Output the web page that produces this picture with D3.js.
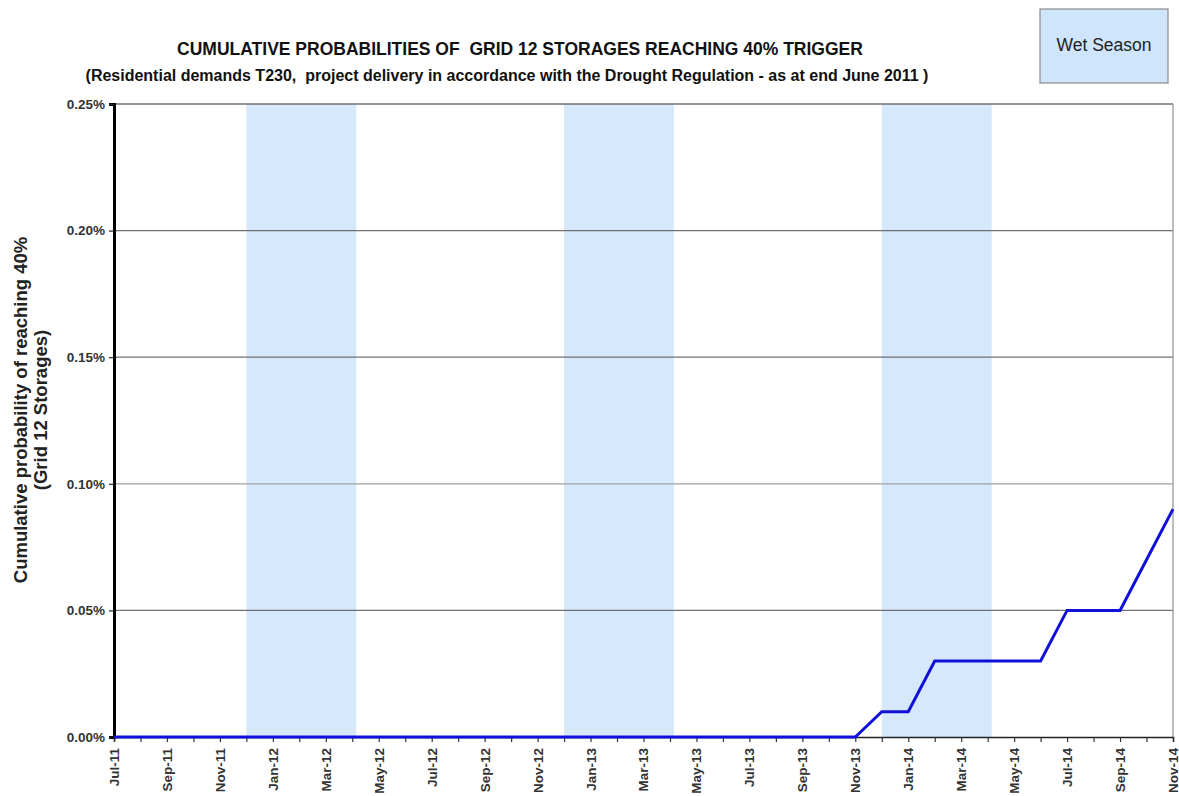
<!DOCTYPE html>
<html>
<head>
<meta charset="utf-8">
<script src="https://cdn.jsdelivr.net/npm/d3@7"></script>
<style>
  body { margin: 0; background: #fff; }
  svg { display: block; font-family: "Liberation Sans", Arial, sans-serif; }
</style>
</head>
<body>
<svg id="chart" width="1179" height="796"></svg>
<script>
// months from Jul-11 to Nov-14
var months = ["Jul-11","Aug-11","Sep-11","Oct-11","Nov-11","Dec-11","Jan-12","Feb-12","Mar-12","Apr-12",
  "May-12","Jun-12","Jul-12","Aug-12","Sep-12","Oct-12","Nov-12","Dec-12","Jan-13","Feb-13","Mar-13","Apr-13",
  "May-13","Jun-13","Jul-13","Aug-13","Sep-13","Oct-13","Nov-13","Dec-13","Jan-14","Feb-14","Mar-14","Apr-14",
  "May-14","Jun-14","Jul-14","Aug-14","Sep-14","Oct-14","Nov-14"];

// cumulative probability (%) per month
var probability = [0,0,0,0,0,0,0,0,0,0,
  0,0,0,0,0,0,0,0,0,0,0,0,
  0,0,0,0,0,0,0,0.01,0.01,0.03,0.03,0.03,
  0.03,0.03,0.05,0.05,0.05,0.07,0.09];

// wet season bands (start month, end month)
var wetSeasons = [["Dec-11","Apr-12"],["Dec-12","Apr-13"],["Dec-13","Apr-14"]];

var yTicks = [0, 0.05, 0.10, 0.15, 0.20, 0.25];

var margin = {top: 104, right: 6, bottom: 59, left: 114};
var width = 1179 - margin.left - margin.right;
var height = 796 - margin.top - margin.bottom;

var svg = d3.select("#chart");
var g = svg.append("g").attr("transform", "translate(" + margin.left + "," + margin.top + ")");

var x = d3.scalePoint().domain(months).range([0, width]);
var y = d3.scaleLinear().domain([0, 0.25]).range([height, 0]);
var step = x.step();

// wet season shading (through end of the last month)
g.selectAll("rect.wet")
    .data(wetSeasons)
    .enter().append("rect")
    .attr("class", "wet")
    .attr("x", d => x(d[0]))
    .attr("y", 0)
    .attr("width", d => x(d[1]) - x(d[0]) + step * 0.15)
    .attr("height", height)
    .attr("fill", "#d5e8fc");

// gridlines
g.selectAll("line.grid")
    .data(yTicks.filter(d => d > 0))
    .enter().append("line")
    .attr("class", "grid")
    .attr("x1", 0)
    .attr("x2", width)
    .attr("y1", d => y(d))
    .attr("y2", d => y(d))
    .attr("stroke", d => d === 0.10 ? "#a0a0a0" : "#707070")
    .attr("stroke-width", 1.3);

// right border
g.append("line")
    .attr("x1", width).attr("x2", width)
    .attr("y1", 0).attr("y2", height)
    .attr("stroke", "#9a9a9a")
    .attr("stroke-width", 1.3);

// x axis
var xAxis = g.append("g")
    .attr("transform", "translate(0," + height + ")")
    .call(d3.axisBottom(x).tickSize(5).tickFormat((d, i) => i % 2 === 0 ? d : ""));
xAxis.select(".domain").attr("stroke", "#222").attr("stroke-width", 1.5);
xAxis.selectAll(".tick line").attr("stroke", "#333").attr("stroke-width", 1.2);
xAxis.selectAll(".tick text")
    .attr("transform", "rotate(-90)")
    .attr("text-anchor", "end")
    .attr("x", -11)
    .attr("y", 0)
    .attr("dy", "0.33em")
    .attr("font-size", 13.5)
    .attr("font-weight", "bold")
    .attr("fill", "#333");

// y axis
var yAxis = g.append("g")
    .call(d3.axisLeft(y).tickValues(yTicks).tickSize(5).tickPadding(4));
yAxis.selectAll(".tick text")
    .text(d => d.toFixed(2) + "%")
    .attr("font-size", 13.5)
    .attr("font-weight", "bold")
    .attr("fill", "#333");
yAxis.selectAll(".tick line").attr("stroke", "#222").attr("stroke-width", 1.2);
yAxis.select(".domain").attr("stroke", "#000").attr("stroke-width", 3);

// data line
var line = d3.line()
    .x((d, i) => x(months[i]))
    .y(d => y(d));
g.append("path")
    .datum(probability)
    .attr("fill", "none")
    .attr("stroke", "#1010d8")
    .attr("stroke-width", 3)
    .attr("d", line);

// titles
svg.append("text")
    .attr("x", 520).attr("y", 55)
    .attr("text-anchor", "middle")
    .attr("font-size", 17.5)
    .attr("font-weight", "bold")
    .attr("fill", "#111")
    .style("white-space", "pre")
    .text("CUMULATIVE PROBABILITIES OF  GRID 12 STORAGES REACHING 40% TRIGGER");
svg.append("text")
    .attr("x", 507).attr("y", 81)
    .attr("text-anchor", "middle")
    .attr("font-size", 16)
    .attr("font-weight", "bold")
    .attr("fill", "#111")
    .style("white-space", "pre")
    .text("(Residential demands T230,  project delivery in accordance with the Drought Regulation - as at end June 2011 )");

// y axis title
var yTitle = svg.append("text")
    .attr("transform", "translate(27,410) rotate(-90)")
    .attr("text-anchor", "middle")
    .attr("font-size", 18.5)
    .attr("font-weight", "bold")
    .attr("fill", "#222");
yTitle.append("tspan").attr("x", 0).attr("dy", 0).text("Cumulative probability of reaching 40%");
yTitle.append("tspan").attr("x", 0).attr("dy", 20).text("(Grid 12 Storages)");

// legend
svg.append("rect")
    .attr("x", 1040).attr("y", 9)
    .attr("width", 128).attr("height", 74)
    .attr("fill", "#cfe5fb")
    .attr("stroke", "#8a8a8a")
    .attr("stroke-width", 1.2);
svg.append("text")
    .attr("x", 1104).attr("y", 51)
    .attr("text-anchor", "middle")
    .attr("font-size", 17.5)
    .attr("fill", "#222")
    .text("Wet Season");
</script>
</body>
</html>
